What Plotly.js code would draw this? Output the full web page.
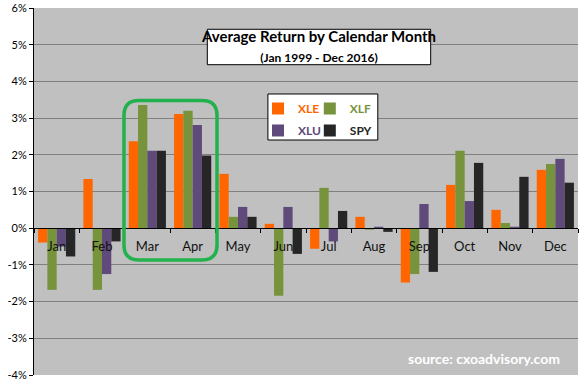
<!DOCTYPE html>
<html>
<head>
<meta charset="utf-8">
<script src="https://cdn.plot.ly/plotly-3.0.1.min.js"></script>
<style>html,body{margin:0;padding:0;background:#fff;}#chart{width:580px;height:384px;}</style>
</head>
<body>
<div id="chart"></div>
<script>
// ---- data (average monthly return, %) ----
const months = ['Jan','Feb','Mar','Apr','May','Jun','Jul','Aug','Sep','Oct','Nov','Dec'];
const seriesNames = ['XLE','XLF','XLU','SPY'];
const xle = [-0.39, 1.34, 2.37, 3.11, 1.48, 0.12, -0.56, 0.31, -1.48, 1.18, 0.50, 1.59];
const xlf = [-1.68, -1.68, 3.36, 3.20, 0.31, -1.84, 1.10, -0.04, -1.25, 2.11, 0.14, 1.75];
const xlu = [-0.50, -1.25, 2.11, 2.81, 0.58, 0.58, -0.36, 0.04, 0.66, 0.74, 0.04, 1.89];
const spy = [-0.77, -0.36, 2.11, 1.98, 0.31, -0.70, 0.47, -0.10, -1.19, 1.78, 1.40, 1.24];
const yTickVals = [-4,-3,-2,-1,0,1,2,3,4,5,6];
const yTickText = ['-4%','-3%','-2%','-1%','0%','1%','2%','3%','4%','5%','6%'];
const titleText = 'Average Return by Calendar Month';
const subtitleText = '(Jan 1999 - Dec 2016)';
const sourceText = 'source: cxoadvisory.com';

const colors = ['#FF6600','#77933C','#604A7B','#262626'];
const values = [xle, xlf, xlu, spy];
const legendIds = ['legend','legend2','legend','legend2'];

const traces = seriesNames.map((n, i) => ({
  type: 'bar',
  x: months,
  y: values[i],
  name: '<span style="color:' + colors[i] + '">' + n + '</span>',
  marker: {color: colors[i], line: {width: 0}},
  legend: legendIds[i],
  legendgroup: n,
  hoverinfo: 'x+y'
}));

const FONT = 'Lato, "Open Sans", "DejaVu Sans", sans-serif';

// rounded highlight box (paper coordinates)
const x0 = 0.1654, x1 = 0.3364, yt = 0.748, yb = 0.3134, rx = 0.0276, ry = 0.0409;
const roundPath = `M${x0+rx},${yt} L${x1-rx},${yt} Q${x1},${yt} ${x1},${yt-ry} L${x1},${yb+ry} Q${x1},${yb} ${x1-rx},${yb} L${x0+rx},${yb} Q${x0},${yb} ${x0},${yb+ry} L${x0},${yt-ry} Q${x0},${yt} ${x0+rx},${yt} Z`;

const layout = {
  width: 580, height: 384,
  margin: {l: 34, r: 2, t: 8, b: 9},
  paper_bgcolor: '#FFFFFF',
  plot_bgcolor: '#C0C0C0',
  font: {family: FONT, color: '#000'},
  barmode: 'group',
  bargap: 0.18,
  bargroupgap: 0,
  title: {
    text: '<b>' + titleText + '</b><br><span style="font-size:12px"><b>' + subtitleText + '</b></span>',
    x: 0.55, xanchor: 'center', xref: 'container',
    y: 0.89, yanchor: 'top', yref: 'container',
    font: {family: FONT, size: 15, color: '#000'}
  },
  xaxis: {
    type: 'category',
    anchor: 'free', position: 0.4,
    showline: true, linecolor: '#000', linewidth: 1,
    ticks: 'outside', ticklen: 4, tickcolor: '#000', tickson: 'boundaries',
    ticklabelstandoff: 6,
    showgrid: false, zeroline: false,
    tickfont: {family: FONT, size: 13, color: '#111'},
    fixedrange: true
  },
  yaxis: {
    range: [-4, 6],
    tickvals: yTickVals, ticktext: yTickText,
    showline: true, linecolor: '#000', linewidth: 1,
    ticks: 'outside', ticklen: 4, tickcolor: '#000',
    showgrid: true, gridcolor: '#808080', gridwidth: 1,
    zeroline: false,
    tickfont: {family: FONT, size: 11, color: '#000'},
    fixedrange: true
  },
  showlegend: true,
  legend: {
    x: 0.4118, y: 0.7657, xanchor: 'left', yanchor: 'top',
    bgcolor: 'rgba(0,0,0,0)', borderwidth: 0,
    font: {family: FONT, size: 12, weight: 'bold'},
    tracegroupgap: 3, traceorder: 'grouped'
  },
  legend2: {
    x: 0.507, y: 0.7657, xanchor: 'left', yanchor: 'top',
    bgcolor: 'rgba(0,0,0,0)', borderwidth: 0,
    font: {family: FONT, size: 12, weight: 'bold'},
    tracegroupgap: 3, traceorder: 'grouped'
  },
  shapes: [
    {type: 'rect', xref: 'paper', yref: 'paper', x0: 0.3186, x1: 0.7292, y0: 0.8455, y1: 0.942,
     fillcolor: '#FFFFFF', line: {color: '#000', width: 1}, layer: 'above'},
    {type: 'rect', xref: 'paper', yref: 'paper', x0: 0.430, x1: 0.632, y0: 0.6403, y1: 0.7657,
     fillcolor: '#FFFFFF', line: {color: '#000', width: 1}, layer: 'above'},
    {type: 'path', xref: 'paper', yref: 'paper', path: roundPath,
     line: {color: '#22B14C', width: 3.5}, fillcolor: 'rgba(0,0,0,0)', layer: 'above'}
  ],
  annotations: [
    {text: '<b>' + sourceText + '</b>', xref: 'paper', yref: 'paper', x: 0.828, y: 0.0436,
     xanchor: 'center', yanchor: 'middle', showarrow: false,
     font: {family: FONT, size: 14, color: '#FFFFFF'}}
  ]
};

Plotly.newPlot('chart', traces, layout, {displayModeBar: false, staticPlot: true});
</script>
</body>
</html>
